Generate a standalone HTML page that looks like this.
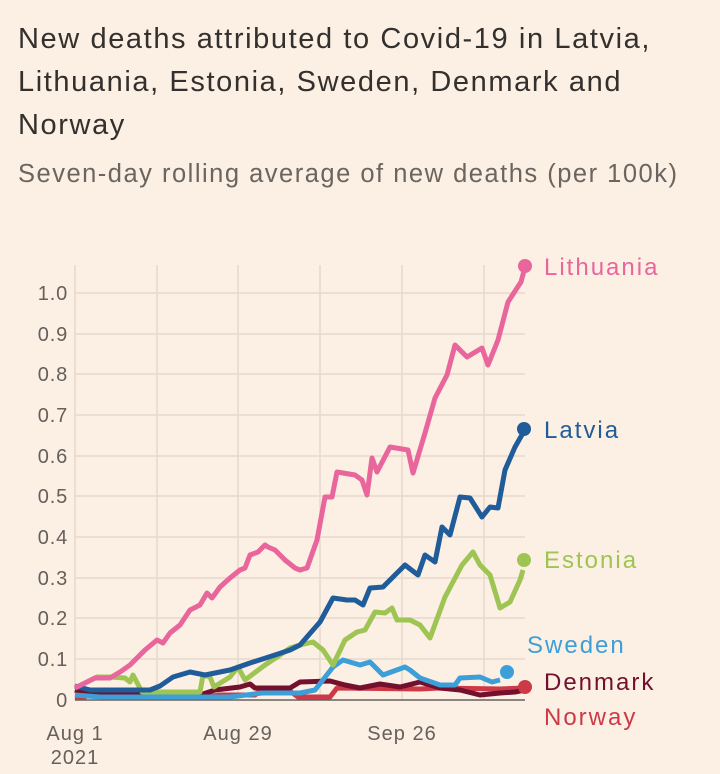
<!DOCTYPE html><html><head><style>
body{margin:0;background:#fcefe4;width:720px;height:774px;overflow:hidden;font-family:"Liberation Sans",sans-serif}
.t{position:absolute;left:18px;top:18px;font-size:29px;line-height:43px;color:#33302e;letter-spacing:1.6px;white-space:nowrap}
.s{position:absolute;left:18px;top:160px;font-size:25.5px;color:#6b6560;letter-spacing:1.5px;white-space:nowrap}
</style></head><body>
<div class="t">New deaths attributed to Covid-19 in Latvia,<br>Lithuania, Estonia, Sweden, Denmark and<br>Norway</div>
<div class="s">Seven-day rolling average of new deaths (per 100k)</div>
<svg width="720" height="774" style="position:absolute;left:0;top:0" font-family="Liberation Sans,sans-serif">
<g stroke="#e6d9cc" stroke-width="1.5">
<line x1="75" y1="265" x2="75" y2="700"/><line x1="157" y1="265" x2="157" y2="700"/><line x1="238" y1="265" x2="238" y2="700"/><line x1="320" y1="265" x2="320" y2="700"/><line x1="402" y1="265" x2="402" y2="700"/><line x1="484" y1="265" x2="484" y2="700"/>
<line x1="75" y1="293" x2="525" y2="293"/><line x1="75" y1="334" x2="525" y2="334"/><line x1="75" y1="374" x2="525" y2="374"/><line x1="75" y1="415" x2="525" y2="415"/><line x1="75" y1="456" x2="525" y2="456"/><line x1="75" y1="496" x2="525" y2="496"/><line x1="75" y1="537" x2="525" y2="537"/><line x1="75" y1="578" x2="525" y2="578"/><line x1="75" y1="618" x2="525" y2="618"/><line x1="75" y1="659" x2="525" y2="659"/>
</g>
<line x1="75" y1="700" x2="525" y2="700" stroke="#66605c" stroke-width="1.5"/>
<g font-size="20" fill="#66605c" text-anchor="end" letter-spacing="0.8">
<text x="68" y="300">1.0</text><text x="68" y="341">0.9</text><text x="68" y="381">0.8</text><text x="68" y="422">0.7</text><text x="68" y="463">0.6</text><text x="68" y="503">0.5</text><text x="68" y="544">0.4</text><text x="68" y="585">0.3</text><text x="68" y="625">0.2</text><text x="68" y="666">0.1</text><text x="68" y="707">0</text></g>
<g font-size="20" fill="#66605c" text-anchor="middle" letter-spacing="1">
<text x="75" y="740">Aug 1</text><text x="75" y="764">2021</text><text x="238" y="740">Aug 29</text><text x="402" y="740">Sep 26</text></g>
<g fill="none" stroke-width="5" stroke-linejoin="round">
<polyline stroke="#cc3a47" points="75,697 85,697 90,693 120,693 130,695 160,695 170,693 195,693 205,697 220,695 255,695 260,691 290,691 298,697 330,697 337,688 420,689 440,688 500,689 525,688"/>
<polyline stroke="#73102e" points="75,690 85,693 100,693 120,692 150,695 200,695 215,690 240,687 250,684 255,688 290,688 300,682 330,681 345,685 360,688 380,684 400,687 420,682 440,688 460,690 480,695 500,693 515,692 525,690"/>
<polyline stroke="#3c9fd8" points="75,695 100,697 160,697 230,697 262,693 300,693 315,690 333,667 343,660 360,665 370,662 383,675 405,667 410,670 420,678 440,685 455,685 460,678 480,677 492,682 500,680"/>
<polyline stroke="#9ec453" points="75,688 97,677 110,677 125,678 130,682 133,675 142,692 200,692 203,675 210,677 214,687 230,677 238,667 245,680 265,665 280,655 290,648 300,645 313,642 323,650 333,665 345,640 357,632 365,630 375,612 385,613 392,608 397,620 410,620 420,625 430,638 445,597 462,565 473,552 480,565 490,575 500,608 510,602 520,580 523,570"/>
<polyline stroke="#1f5c99" points="75,686 90,690 150,690 160,686 173,677 190,672 205,675 230,670 250,663 275,655 290,650 300,645 313,630 320,622 333,598 347,600 355,600 363,605 370,588 383,587 395,575 405,565 418,575 425,555 435,562 442,527 450,535 460,497 470,498 482,517 490,507 498,508 505,470 515,447 523,433"/>
<polyline stroke="#e8669b" points="75,688 95,678 110,678 120,672 130,665 145,650 157,640 163,643 170,633 180,625 190,610 200,605 207,593 212,598 220,587 230,578 240,570 245,568 250,555 258,552 265,545 268,547 275,550 285,560 295,568 300,570 307,568 317,540 325,497 332,497 337,472 355,475 362,480 367,495 372,458 377,472 390,447 408,450 413,473 425,433 435,398 447,375 455,345 467,357 482,348 488,365 498,340 508,302 517,288 521,282 525,267"/>
</g>
<circle cx="525" cy="266" r="7" fill="#e8669b"/><circle cx="524" cy="429" r="7" fill="#1f5c99"/><circle cx="524" cy="560" r="7" fill="#9ec453"/><circle cx="507" cy="672" r="7" fill="#3c9fd8"/><circle cx="525" cy="687" r="7" fill="#cc3a47"/>
<g font-size="24" letter-spacing="2">
<text x="544" y="275" fill="#e8669b">Lithuania</text><text x="544" y="438" fill="#1f5c99">Latvia</text><text x="544" y="568" fill="#9ec453">Estonia</text><text x="527" y="653" fill="#3c9fd8">Sweden</text><text x="544" y="690" fill="#73102e">Denmark</text><text x="544" y="725" fill="#cc3a47">Norway</text></g>
</svg>
</body></html>
